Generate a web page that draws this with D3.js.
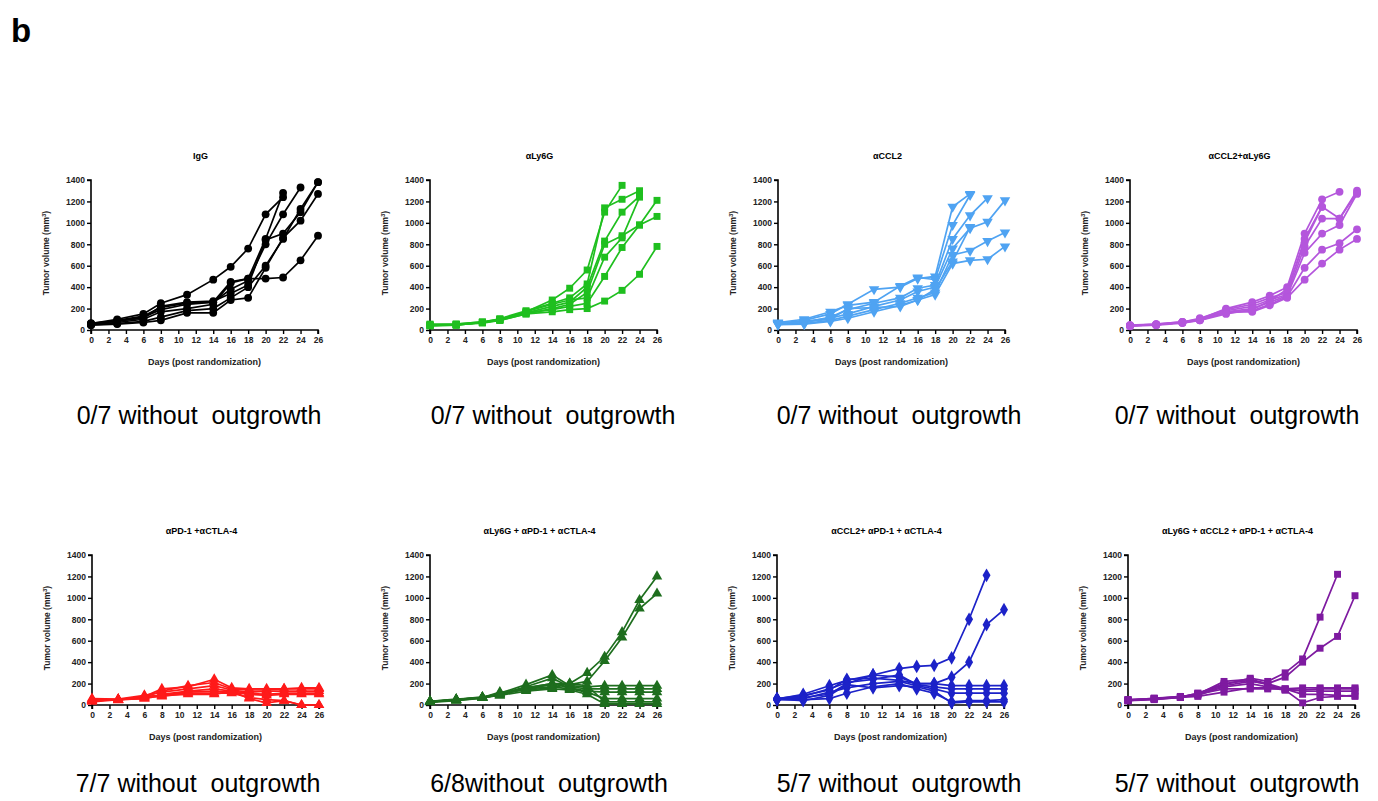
<!DOCTYPE html>
<html>
<head>
<meta charset="utf-8">
<script src="https://cdn.jsdelivr.net/npm/d3@7"></script>
<style>
  body { margin: 0; background: #fff; }
  text { font-family: "Liberation Sans", Arial, sans-serif; }
</style>
</head>
<body>
<svg id="fig" width="1378" height="801"></svg>
<script>
const days = [0, 3, 6, 8, 11, 14, 16, 18, 20, 22, 24, 26];
const yTicks = [0, 200, 400, 600, 800, 1000, 1200, 1400];
const xTicks = [0, 2, 4, 6, 8, 10, 12, 14, 16, 18, 20, 22, 24, 26];

const titles = ["IgG", "αLy6G", "αCCL2", "αCCL2+αLy6G",
  "αPD-1 +αCTLA-4", "αLy6G + αPD-1 + αCTLA-4", "αCCL2+ αPD-1 + αCTLA-4", "αLy6G + αCCL2 + αPD-1 + αCTLA-4"];
const captions = ["0/7 without  outgrowth", "0/7 without  outgrowth", "0/7 without  outgrowth", "0/7 without  outgrowth",
  "7/7 without  outgrowth", "6/8without  outgrowth", "5/7 without  outgrowth", "5/7 without  outgrowth"];
const colors = ["#000000", "#1fbf1f", "#4fa3f2", "#b456dc", "#ff1a1a", "#1e6e1e", "#1c22c8", "#7e1aa0"];
const shapes = ["circle", "square", "down", "circle", "up", "up", "diamond", "square"];

// tumor volumes per mouse, indexed by days
const igg = [
  [60, 100, 150, 250, 330, 470, 590, 760, 1080, 1240],
  [50, 90, 130, 210, 250, 260, 450, 480, 850, 1280],
  [55, 70, 100, 170, 200, 240, 440, 480, 480, 490, 650, 880],
  [65, 80, 120, 190, 240, 260, 380, 460, 800, 1080, 1330],
  [50, 60, 80, 120, 180, 200, 300, 400, 600, 850, 1130, 1380],
  [45, 55, 70, 90, 160, 160, 280, 300, 580, 860, 1020, 1270],
  [60, 85, 110, 220, 260, 270, 340, 420, 840, 900, 1100, 1380]
];
const ly6g = [
  [45, 50, 70, 100, 170, 280, 390, 560, 1100, 1350],
  [50, 55, 75, 105, 180, 250, 300, 430, 1140, 1220, 1300],
  [40, 45, 70, 95, 160, 220, 260, 400, 830, 1100, 1250],
  [55, 50, 65, 90, 150, 200, 240, 350, 800, 880, 980, 1210],
  [45, 55, 75, 100, 170, 240, 280, 300, 680, 860, 1240],
  [40, 50, 70, 95, 160, 190, 220, 250, 500, 770, 980, 1060],
  [40, 45, 70, 90, 150, 170, 190, 200, 270, 370, 520, 780]
];
const ccl2 = [
  [60, 90, 150, 240, 380, 400, 480, 500, 1150, 1270],
  [70, 100, 170, 230, 260, 410, 490, 470, 980, 1260],
  [50, 70, 120, 190, 250, 300, 390, 420, 850, 1070, 1230],
  [55, 80, 110, 150, 220, 280, 360, 400, 760, 950, 1010, 1210],
  [60, 60, 90, 130, 190, 250, 300, 350, 700, 740, 830, 910],
  [50, 55, 80, 110, 170, 230, 280, 330, 620, 650, 660, 780],
  [65, 75, 100, 200, 210, 220, 280, 380, 640, 960]
];
const ccl2Ly6g = [
  [40, 50, 70, 100, 200, 260, 320, 400, 900, 1220, 1290],
  [45, 55, 75, 110, 190, 240, 300, 350, 850, 1150, 1040, 1300],
  [40, 50, 70, 100, 180, 220, 280, 330, 780, 1040, 1040, 1280],
  [35, 45, 65, 90, 170, 200, 260, 320, 720, 900, 980, 1270],
  [40, 50, 70, 95, 160, 180, 240, 310, 580, 750, 810, 940],
  [40, 55, 75, 100, 170, 170, 230, 300, 470, 620, 750, 850],
  [45, 50, 70, 90, 150, 190, 270, 380, 820, 1150]
];
const pd1 = [
  [50, 50, 80, 150, 170, 240, 160, 150, 150, 150, 150, 150],
  [40, 50, 70, 130, 180, 210, 150, 140, 140, 150, 160, 160],
  [60, 55, 90, 120, 150, 180, 140, 120, 130, 130, 130, 130],
  [30, 50, 60, 100, 130, 150, 130, 110, 100, 110, 110, 110],
  [50, 45, 80, 90, 120, 130, 120, 100, 90, 100, 100, 100],
  [40, 50, 70, 80, 110, 110, 110, 70, 50, 40, 0, 0],
  [45, 50, 60, 90, 100, 100, 130, 60, 20, 40, 0, 0]
];
const ly6gPd1 = [
  [30, 50, 70, 110, 160, 200, 200, 300, 450, 680, 980, 1200],
  [35, 45, 65, 100, 150, 190, 190, 220, 410, 630, 900, 1040],
  [30, 50, 70, 110, 190, 280, 180, 170, 180, 180, 180, 180],
  [35, 50, 75, 100, 170, 250, 170, 150, 150, 150, 150, 150],
  [30, 45, 70, 90, 160, 200, 160, 130, 120, 120, 120, 120],
  [25, 40, 65, 100, 150, 170, 150, 120, 60, 60, 60, 60],
  [30, 50, 70, 120, 140, 160, 200, 180, 30, 30, 30, 30],
  [35, 55, 70, 90, 130, 150, 140, 100, 10, 10, 10, 10]
];
const ccl2Pd1 = [
  [50, 70, 100, 200, 280, 340, 360, 370, 440, 800, 1210],
  [60, 90, 140, 240, 250, 230, 200, 200, 260, 400, 750, 890],
  [55, 100, 180, 230, 280, 260, 200, 200, 180, 180, 180, 180],
  [50, 80, 150, 210, 240, 280, 190, 170, 150, 150, 150, 150],
  [60, 60, 120, 160, 200, 220, 180, 150, 110, 110, 110, 110],
  [50, 50, 60, 110, 170, 200, 150, 110, 30, 40, 40, 50],
  [55, 40, 90, 190, 160, 180, 170, 130, 20, 30, 30, 30]
];
const quad = [
  [40, 65, 75, 110, 190, 250, 220, 300, 430, 820, 1220],
  [45, 60, 75, 100, 180, 220, 200, 260, 400, 530, 640, 1020],
  [40, 60, 70, 100, 220, 240, 200, 150, 160, 160, 160, 160],
  [50, 55, 75, 110, 200, 230, 190, 140, 140, 150, 150, 150],
  [45, 60, 80, 90, 170, 200, 170, 150, 130, 130, 130, 130],
  [40, 50, 70, 80, 120, 160, 160, 140, 20, 70, 80, 90],
  [50, 55, 70, 100, 150, 150, 150, 150, 100, 100, 90, 80]
];
const groups = [igg, ly6g, ccl2, ccl2Ly6g, pd1, ly6gPd1, ccl2Pd1, quad];

// panel placement
const panelLeft = [91, 430, 778, 1130, 92, 430, 777, 1128];
const panelTop = [180, 180, 180, 180, 555, 555, 555, 555];
const captionX = [199, 553, 899, 1237, 198, 549, 899, 1237];
const captionY = [424, 424, 424, 424, 792, 792, 792, 792];
const pw = 227, ph = 150;

const svg = d3.select("#fig");

svg.append("text")
  .attr("x", 11).attr("y", 42)
  .style("font-size", "33px").style("font-weight", "bold")
  .text("b");

const symbolType = {
  circle: d3.symbolCircle, square: d3.symbolSquare, up: d3.symbolTriangle,
  down: d3.symbolTriangle, diamond: d3.symbolDiamond
};

groups.forEach((mice, i) => {
  const g = svg.append("g").attr("transform", `translate(${panelLeft[i]},${panelTop[i]})`);
  const x = d3.scaleLinear().domain([0, 26]).range([0, pw]);
  const y = d3.scaleLinear().domain([0, 1400]).range([ph, 0]);
  const col = colors[i];

  // axes
  const ya = g.append("g")
    .call(d3.axisLeft(y).tickValues(yTicks).tickFormat(d3.format("d")).tickSize(4).tickPadding(2));
  const xa = g.append("g").attr("transform", `translate(0,${ph})`)
    .call(d3.axisBottom(x).tickValues(xTicks).tickSize(4).tickPadding(3));
  [ya, xa].forEach(a => {
    a.select(".domain").attr("stroke", "#000").attr("stroke-width", 1.6);
    a.selectAll(".tick line").attr("stroke", "#000").attr("stroke-width", 1.4);
    a.selectAll(".tick text")
      .style("font-size", "8.5px").style("font-weight", "bold")
      .style("font-family", "Liberation Sans, Arial, sans-serif").attr("fill", "#222");
  });
  ya.select(".domain").attr("d", `M-4,0H0V${ph}`);
  xa.select(".domain").attr("d", `M0,4V0H${pw}V4`);

  // lines + markers
  const line = d3.line().x((v, k) => x(days[k])).y(v => y(v));
  mice.forEach(m => {
    g.append("path").attr("d", line(m))
      .attr("fill", "none").attr("stroke", col).attr("stroke-width", 1.7);
  });
  const sym = d3.symbol().type(symbolType[shapes[i]]).size(shapes[i] === "diamond" ? 55 : 48);
  mice.forEach(m => {
    g.selectAll(null).data(m).enter().append("path")
      .attr("d", sym)
      .attr("fill", col)
      .attr("transform", (v, k) => `translate(${x(days[k])},${y(v)})${shapes[i] === "down" ? " rotate(180)" : ""}`);
  });

  // labels
  g.append("text")
    .attr("x", pw / 2 - 4).attr("y", -21)
    .attr("text-anchor", "middle")
    .style("font-size", "9px").style("font-weight", "bold")
    .text(titles[i]);

  g.append("text")
    .attr("x", pw / 2).attr("y", ph + 35)
    .attr("text-anchor", "middle")
    .style("font-size", "9px").style("font-weight", "bold").attr("fill", "#222")
    .text("Days (post randomization)");

  const yl = g.append("text")
    .attr("transform", `translate(-42,${ph / 2 - 2}) rotate(-90)`)
    .attr("text-anchor", "middle")
    .style("font-size", "8.5px").style("font-weight", "bold").attr("fill", "#222");
  yl.append("tspan").text("Tumor volume (mm");
  yl.append("tspan").attr("dy", -3).style("font-size", "6px").text("3");
  yl.append("tspan").attr("dy", 3).text(")");

  svg.append("text")
    .attr("x", captionX[i]).attr("y", captionY[i])
    .attr("text-anchor", "middle")
    .style("font-size", "25px").style("white-space", "pre")
    .attr("xml:space", "preserve")
    .text(captions[i]);
});
</script>
</body>
</html>
